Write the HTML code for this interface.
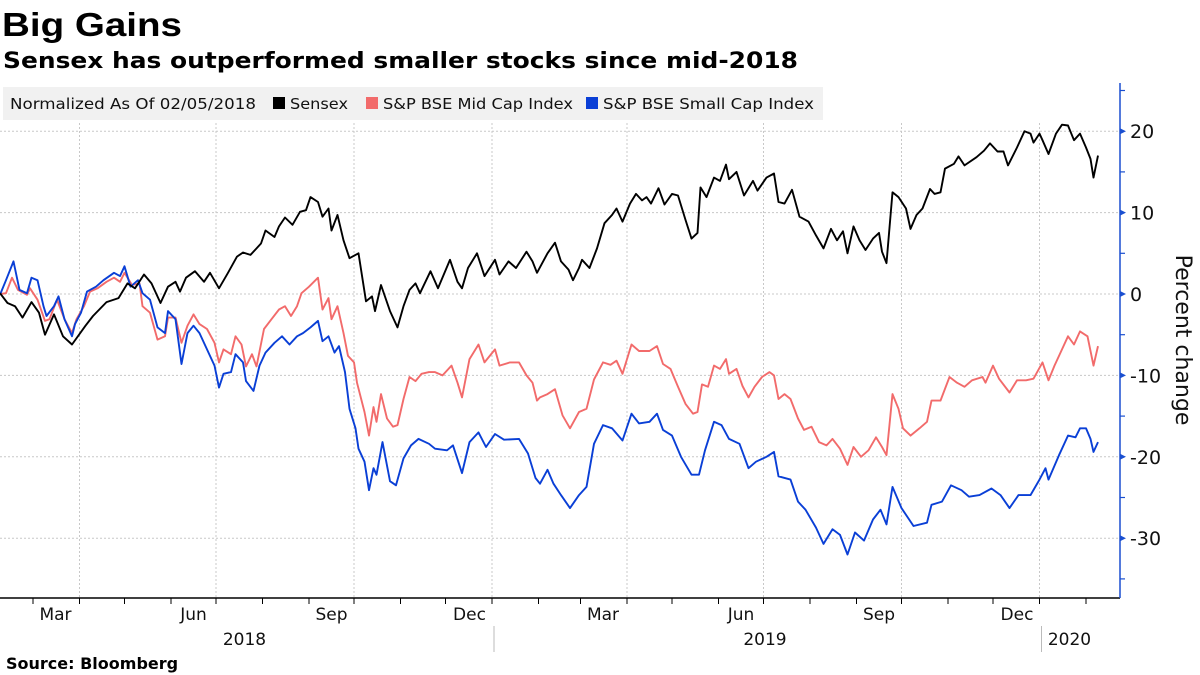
<!DOCTYPE html>
<html><head><meta charset="utf-8"><style>
html,body{margin:0;padding:0;background:#fff;width:1200px;height:675px;overflow:hidden}
svg{display:block;font-family:"Liberation Sans","DejaVu Sans",sans-serif}
</style></head><body>
<svg id="chart" width="1200" height="675" viewBox="0 0 1200 675" xmlns="http://www.w3.org/2000/svg">
<text x="2" y="36" font-size="33" font-weight="bold" fill="#000" textLength="180" lengthAdjust="spacingAndGlyphs">Big Gains</text>
<text x="3" y="68" font-family="DejaVu Sans" font-size="22" font-weight="bold" fill="#000" textLength="795" lengthAdjust="spacingAndGlyphs">Sensex has outperformed smaller stocks since mid-2018</text>
<g id="grid"></g>
<g>
<rect x="3" y="87" width="820" height="33" fill="#f1f1f1"/>
<text x="10" y="109" font-family="DejaVu Sans" font-size="15" fill="#111" textLength="246" lengthAdjust="spacingAndGlyphs">Normalized As Of 02/05/2018</text>
<rect x="273" y="97" width="12" height="12" fill="#000"/>
<text x="290" y="109" font-family="DejaVu Sans" font-size="15" fill="#111" textLength="58" lengthAdjust="spacingAndGlyphs">Sensex</text>
<rect x="366" y="97" width="12" height="12" fill="#f26b6b"/>
<text x="383" y="109" font-family="DejaVu Sans" font-size="15" fill="#111" textLength="190" lengthAdjust="spacingAndGlyphs">S&amp;P BSE Mid Cap Index</text>
<rect x="586" y="97" width="12" height="12" fill="#0a3fd6"/>
<text x="603" y="109" font-family="DejaVu Sans" font-size="15" fill="#111" textLength="211" lengthAdjust="spacingAndGlyphs">S&amp;P BSE Small Cap Index</text>
</g>
<g id="series"></g>
<g id="axes"></g>
<text transform="translate(1176,340) rotate(90)" text-anchor="middle" font-family="DejaVu Sans" font-size="22" fill="#111">Percent change</text>
<text x="6" y="669" font-family="DejaVu Sans" font-size="16" font-weight="bold" fill="#000">Source: Bloomberg</text>
</svg>
<script>
const sensexDays=[0,7,12,17,23,28,32,38,44,50,59,64,73,81,87,92,98,103,109,114,119,122,126,132,138,142,148,154,160,164,169,176,179,185,188,192,197,202,206,209,214,217,221,223,227,231,235,241,246,250,252,256,262,267,271,275,279,282,289,294,302,307,310,314,320,325,332,335,341,346,353,357,360,367,372,376,381,384,388,390,395,400,405,410,413,417,422,426,430,433,436,441,445,450,454,459,463,467,469,473,478,482,486,488,493,498,504,507,513,518,521,525,530,535,541,546,551,556,560,564,567,571,575,579,584,588,590,593,597,601,606,609,613,617,622,625,629,632,638,641,645,653,658,662,667,671,674,680,685,689,691,695,697,701,706,710,714,718,722,726,729,731,734];
const sensexValues=[0.1,-1.1,-1.5,-2.9,-1.0,-2.3,-5.0,-2.5,-5.2,-6.2,-3.9,-2.7,-1.0,-0.5,1.3,0.7,2.4,1.3,-1.1,0.9,1.5,0.3,2.0,2.8,1.5,2.6,0.7,2.6,4.6,5.1,4.8,6.2,7.8,7.0,8.3,9.4,8.5,10.1,10.3,11.9,11.3,9.5,10.5,7.8,9.7,6.6,4.4,5.0,-0.9,-0.3,-2.1,1.1,-2.1,-4.1,-1.5,0.5,1.3,0.1,2.8,0.7,4.2,1.5,0.7,3.2,5.0,2.2,4.2,2.4,4.0,3.2,5.2,4.0,2.6,5.0,6.3,4.0,3.0,1.7,3.2,4.2,3.2,5.6,8.7,9.7,10.5,8.9,11.1,12.3,11.5,11.9,11.1,13.0,11.0,12.3,12.1,9.1,6.8,7.5,13.1,11.9,14.3,13.9,15.9,14.1,15.0,12.1,13.9,12.7,14.3,14.8,11.3,11.1,12.8,9.5,8.9,7.2,5.6,8.0,6.6,7.7,5.0,8.3,6.6,5.4,6.8,7.5,5.2,3.8,12.5,11.9,10.5,8.0,9.7,10.5,12.9,12.3,12.5,15.4,16.0,16.9,15.8,16.8,17.6,18.5,17.5,17.5,15.8,18.0,20.0,19.7,18.6,19.7,18.9,17.2,19.7,20.8,20.7,18.9,19.7,18.0,16.6,14.3,17.0];
const midDays=[0,6,10,14,20,22,27,32,35,40,45,50,53,58,62,67,73,78,82,85,90,95,97,102,107,112,114,119,123,127,131,135,140,145,148,151,156,159,163,166,170,173,178,183,188,192,196,200,203,208,214,217,221,223,227,231,234,238,240,245,248,251,253,256,260,264,267,271,275,279,283,288,292,297,303,307,310,315,321,325,332,335,342,348,353,357,360,362,367,372,377,382,388,393,398,404,409,413,417,423,428,435,440,444,449,454,459,464,467,470,474,478,482,486,488,493,497,501,505,510,515,518,521,525,529,534,538,543,548,553,557,562,567,571,576,581,586,590,593,597,601,604,609,615,620,623,629,635,640,645,650,657,659,664,668,675,680,686,691,697,701,705,710,714,718,722,727,731,734];
const midValues=[0,0.1,2.0,0.5,-0.1,0.7,-0.7,-3.3,-3.1,-0.7,-3.1,-4.8,-3.1,-1.5,0.3,0.7,1.5,2.0,1.5,2.6,1.1,1.3,-1.5,-2.3,-5.6,-5.2,-2.9,-2.9,-6.0,-3.9,-2.5,-3.7,-4.3,-6.0,-8.4,-6.8,-7.4,-5.2,-6.2,-8.9,-7.4,-8.9,-4.3,-3.1,-1.9,-1.5,-2.7,-1.5,0.1,0.9,2.0,-1.9,-0.5,-3.1,-1.5,-4.8,-7.6,-8.4,-10.9,-14.5,-17.4,-13.9,-15.7,-12.3,-15.3,-16.3,-16.1,-12.9,-10.2,-10.7,-9.8,-9.6,-9.6,-10.0,-8.8,-10.9,-12.7,-8.0,-6.2,-8.4,-6.8,-8.8,-8.4,-8.4,-10.0,-10.9,-13.1,-12.7,-12.3,-11.7,-14.9,-16.5,-14.5,-14.1,-10.5,-8.4,-8.7,-8.2,-9.8,-6.2,-7.0,-7.0,-6.4,-8.6,-9.2,-11.4,-13.5,-14.7,-14.5,-11.1,-11.4,-8.8,-9.2,-8.0,-9.8,-9.2,-11.3,-12.7,-11.4,-10.2,-9.6,-10.0,-12.9,-12.3,-12.9,-15.3,-16.7,-16.3,-18.2,-18.6,-17.8,-19.0,-21.0,-18.8,-20.0,-19.2,-17.6,-18.8,-19.8,-12.3,-14.1,-16.5,-17.4,-16.5,-15.7,-13.1,-13.1,-10.2,-10.9,-11.4,-10.6,-10.2,-10.9,-8.8,-10.4,-12.1,-10.6,-10.6,-10.4,-8.4,-10.6,-8.8,-6.8,-5.2,-6.2,-4.6,-5.2,-8.8,-6.4];
const smallDays=[0,6,11,15,20,23,27,31,33,38,41,45,50,52,56,60,66,71,78,82,85,89,94,97,102,107,112,114,119,123,127,131,135,140,145,148,151,156,159,164,166,171,175,179,185,190,195,200,204,209,214,217,221,225,228,232,235,239,241,245,248,251,253,257,262,266,271,276,281,288,292,300,304,310,315,321,326,332,338,348,354,359,362,367,371,376,382,388,393,398,404,410,417,423,428,435,440,444,450,456,463,468,472,478,483,488,495,501,506,513,518,521,529,534,539,546,551,557,562,567,572,578,584,589,593,597,603,611,620,623,630,636,643,648,655,663,669,675,681,689,695,699,701,708,714,719,722,726,729,731,734];
const smallValues=[-0.1,1.7,4.0,0.5,0.1,2.0,1.7,-1.5,-2.7,-1.5,-0.3,-3.1,-5.2,-3.7,-2.3,0.3,0.9,1.7,2.6,2.2,3.4,0.9,1.7,0.1,-0.7,-4.1,-4.8,-2.1,-3.1,-8.6,-4.8,-3.9,-4.8,-6.8,-8.8,-11.5,-9.8,-9.6,-7.4,-8.4,-10.7,-11.9,-8.8,-7.2,-6.0,-5.2,-6.2,-5.2,-4.8,-4.1,-3.3,-5.8,-5.2,-7.2,-6.4,-9.6,-14.1,-16.5,-19.0,-20.6,-24.1,-21.4,-22.2,-18.2,-23.0,-23.5,-20.2,-18.6,-17.8,-18.4,-19.0,-19.2,-18.6,-22.0,-18.2,-17.0,-18.8,-17.2,-17.9,-17.8,-19.6,-22.6,-23.3,-21.6,-23.3,-24.7,-26.3,-24.7,-23.7,-18.4,-16.1,-16.5,-18.0,-14.7,-15.9,-15.7,-14.7,-16.7,-17.4,-20.0,-22.2,-22.2,-19.2,-15.7,-16.1,-17.8,-18.4,-21.4,-20.6,-20.0,-19.4,-22.4,-22.8,-25.5,-26.5,-28.7,-30.7,-28.9,-29.6,-32.0,-29.3,-30.3,-27.7,-26.5,-28.3,-23.7,-26.3,-28.5,-28.1,-25.9,-25.5,-23.5,-24.1,-24.9,-24.7,-23.9,-24.7,-26.3,-24.7,-24.7,-22.8,-21.4,-22.8,-19.8,-17.4,-17.6,-16.5,-16.5,-17.8,-19.4,-18.2];
const yTicks=[20,10,0,-10,-20,-30];
const yTickLabels=["20","10","0","-10","-20","-30"];
const yMinorTicks=[25,15,5,-5,-15,-25,-35];
const quarterDays=[55,146,238,330,420,511,603,695];
const monthDays=[24,55,85,116,146,177,208,238,269,299,330,361,389,420,450,481,511,542,573,603,634,664,695,726];
const monthLabels=["Mar","Jun","Sep","Dec","Mar","Jun","Sep","Dec"];
const monthLabelDays=[39,131,223,315,404,496,588,680];
const yearLabels=["2018","2019","2020"];
const yearLabelDays=[165,512,715];
const yearBreakDays=[330,695];

const NS="http://www.w3.org/2000/svg";
const X0=0,X1=1120,Y0=83,Y1=598;
function xs(d){return -3+1.5*d;}
function ys(v){return 294-8.14*v;}
function mk(tag,attrs,parent){const e=document.createElementNS(NS,tag);for(const k in attrs)e.setAttribute(k,attrs[k]);parent.appendChild(e);return e;}
const grid=document.getElementById('grid'),axes=document.getElementById('axes'),ser=document.getElementById('series');
yTicks.forEach(v=>{const l=mk('line',{x1:X0,x2:X1,y1:ys(v),y2:ys(v),stroke:'#c8c8c8','stroke-dasharray':'2,2','stroke-width':1},grid);

});
quarterDays.forEach(d=>{const l=mk('line',{x1:xs(d),x2:xs(d),y1:Y0+40,y2:Y1,stroke:'#c8c8c8','stroke-dasharray':'2,2','stroke-width':1},grid);

});
function series(days,vals,color,name){
 let d='';days.forEach((dd,i)=>{d+=(i?'L':'M')+Math.max(0,xs(dd)).toFixed(1)+','+ys(vals[i]).toFixed(1);});
 const p=mk('path',{d:d,fill:'none',stroke:color,'stroke-width':1.9,'stroke-linejoin':'round'},ser);
 
 
}
series(midDays,midValues,'#f26b6b','midcap-line');
series(smallDays,smallValues,'#0a3fd6','smallcap-line');
series(sensexDays,sensexValues,'#000','sensex-line');
// axes
const xa=mk('line',{x1:X0,x2:X1,y1:Y1,y2:Y1,stroke:'#000','stroke-width':1.5},axes);


const ya=mk('line',{x1:X1,x2:X1,y1:Y0,y2:Y1,stroke:'#1a4fd0','stroke-width':1.5},axes);


yTicks.forEach((v,i)=>{const y=ys(v);
 const t=mk('path',{d:`M${X1},${y-3}L${X1+6},${y}L${X1},${y+3}Z`,fill:'#1a4fd0'},axes);
 
 
 const tx=mk('text',{x:X1+10,y:y+7,'font-size':19,'font-family':'DejaVu Sans',fill:'#111'},axes);tx.textContent=yTickLabels[i];
 
 });
yMinorTicks.forEach(v=>{const t=mk('line',{x1:X1,x2:X1+5,y1:ys(v),y2:ys(v),stroke:'#1a4fd0','stroke-width':1.2},axes);
 
 });
monthDays.forEach(d=>{const t=mk('line',{x1:xs(d),x2:xs(d),y1:Y1,y2:Y1+6,stroke:'#000','stroke-width':1},axes);
 
 });
monthLabels.forEach((m,i)=>{const t=mk('text',{x:xs(monthLabelDays[i]),y:Y1+22,'text-anchor':'middle','font-size':17,'font-family':'DejaVu Sans',fill:'#111'},axes);t.textContent=m;
 
 });
yearLabels.forEach((m,i)=>{const t=mk('text',{x:xs(yearLabelDays[i]),y:Y1+47,'text-anchor':'middle','font-size':17,'font-family':'DejaVu Sans',fill:'#111'},axes);t.textContent=m;
 
 });
yearBreakDays.forEach(d=>{const t=mk('line',{x1:xs(d)+2,x2:xs(d)+2,y1:Y1+28,y2:Y1+54,stroke:'#bbb','stroke-width':1},axes);
 
 });
</script>
</body></html>
